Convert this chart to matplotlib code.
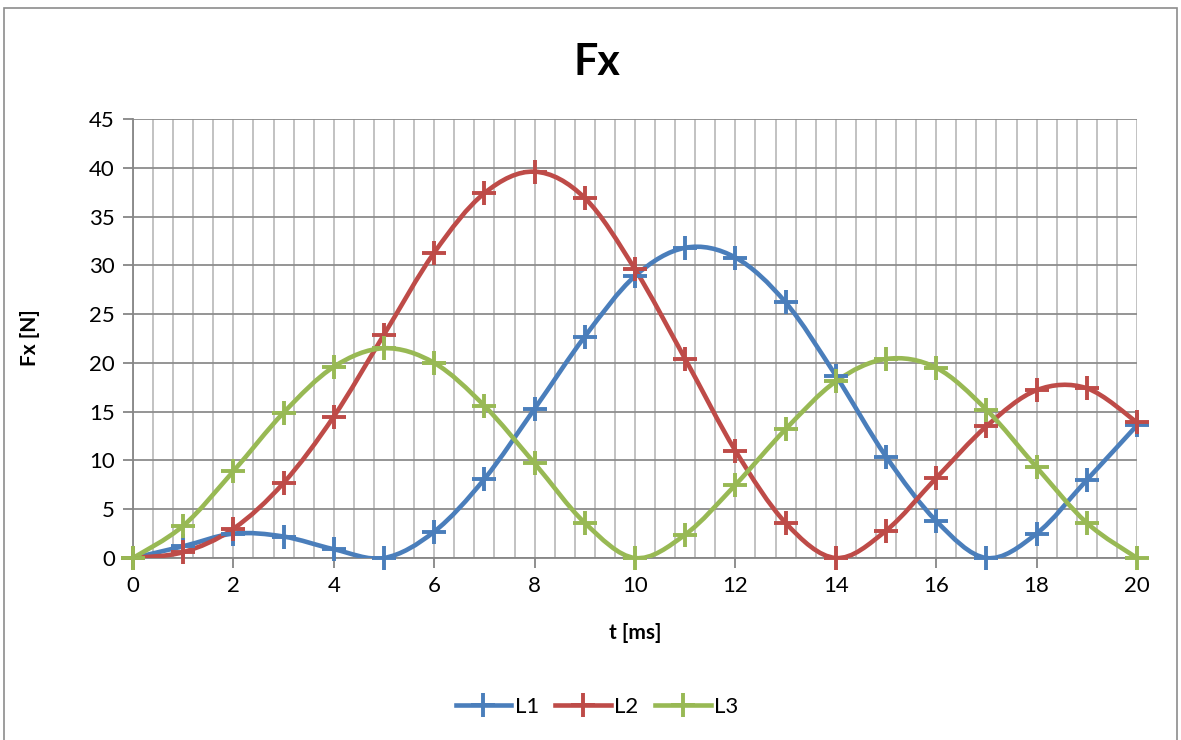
import matplotlib.pyplot as plt
import numpy as np
from matplotlib.path import Path
from matplotlib.patches import PathPatch, Rectangle
from matplotlib.lines import Line2D
from matplotlib.ticker import MultipleLocator

# ====== Data ======
t_ms = list(range(21))
l1 = [0, 1.2, 2.5, 2.2, 0.9, 0, 2.7, 8.1, 15.3, 22.7, 28.9, 31.8, 30.8, 26.2,
      18.7, 10.4, 3.8, 0, 2.5, 8.0, 13.6]
l2 = [0, 0.6, 3.0, 7.7, 14.5, 22.9, 31.3, 37.4, 39.6, 36.9, 29.6, 20.4, 11.0,
      3.6, 0, 2.8, 8.2, 13.5, 17.2, 17.4, 13.9]
l3 = [0, 3.3, 8.9, 14.9, 19.6, 21.5, 20.0, 15.6, 9.7, 3.6, 0, 2.4, 7.5, 13.2,
      18.1, 20.4, 19.5, 15.2, 9.3, 3.6, 0]
series_names = ["L1", "L2", "L3"]
series_colors = ["#4A7EBB", "#BE4B48", "#98B954"]

plt.rcParams["font.family"] = ["Lato", "DejaVu Sans"]


def smooth_path(x, y):
    """Excel-like smoothed line: cubic Bezier segments through every point."""
    pts = np.column_stack([x, y]).astype(float)
    ext = np.vstack([pts[0], pts, pts[-1]])
    verts = [pts[0]]
    codes = [Path.MOVETO]
    for i in range(len(pts) - 1):
        p0, p1, p2, p3 = ext[i], ext[i + 1], ext[i + 2], ext[i + 3]
        verts += [p1 + (p2 - p0) / 6, p2 - (p3 - p1) / 6, p2]
        codes += [Path.CURVE4] * 3
    return Path(verts, codes)


fig = plt.figure(figsize=(11.81, 7.40), dpi=100)
ax = fig.add_axes([133 / 1181, 1 - 558 / 740, (1137 - 133) / 1181, (558 - 119) / 740])

# chart frame
fig.patches.append(Rectangle((4 / 1181, -0.01), (1177 - 4) / 1181, 1 - 8 / 740 + 0.01,
                             transform=fig.transFigure, fill=False,
                             edgecolor="#8C8C8C", linewidth=1.2))

for ys, color in zip([l1, l2, l3], series_colors):
    ax.add_patch(PathPatch(smooth_path(t_ms, ys), fill=False, edgecolor=color,
                           linewidth=3.3, capstyle="round", zorder=3))
    ax.plot(t_ms, ys, linestyle="none", marker="+", markersize=17,
            markeredgewidth=2.8, color=color, zorder=4, clip_on=False)

ax.set_xlim(0, 20)
ax.set_ylim(0, 45)
ax.xaxis.set_major_locator(MultipleLocator(2))
ax.xaxis.set_minor_locator(MultipleLocator(0.4))
ax.yaxis.set_major_locator(MultipleLocator(5))

ax.grid(True, axis="x", which="both", color="#BDBDBD", linewidth=1.3)
ax.grid(True, axis="y", which="major", color="#8C8C8C", linewidth=1.3)
ax.set_axisbelow(True)

for side in ["top", "right"]:
    ax.spines[side].set_visible(False)
for side in ["left", "bottom"]:
    ax.spines[side].set_color("#868686")
    ax.spines[side].set_linewidth(1.3)

ax.tick_params(axis="both", which="major", length=7, width=1.3, color="#868686",
               labelsize=16, pad=6)
ax.tick_params(axis="x", which="minor", length=0)

fig.text(597 / 1181, 1 - 62 / 740, "Fx", fontsize=31, fontweight="bold",
         ha="center", va="center")
ax.set_xlabel("t [ms]", fontsize=15, fontweight="bold")
ax.set_ylabel("Fx [N]", fontsize=15, fontweight="bold")
ax.xaxis.set_label_coords(0.5, -0.171)
ax.yaxis.set_label_coords(-0.1026, 0.501)
ax.xaxis.label.set_va("center")
ax.yaxis.label.set_va("center")

handles = [Line2D([], [], color=c, linewidth=3.3, marker="+", markersize=17,
                  markeredgewidth=2.8) for c in series_colors]
fig.legend(handles, series_names, loc="center", bbox_to_anchor=(597 / 1181, 1 - 707 / 740),
           ncol=3, frameon=False, fontsize=16, handlelength=2.5, handletextpad=0.15,
           columnspacing=0.75)

fig.savefig("out.png", dpi=100)
